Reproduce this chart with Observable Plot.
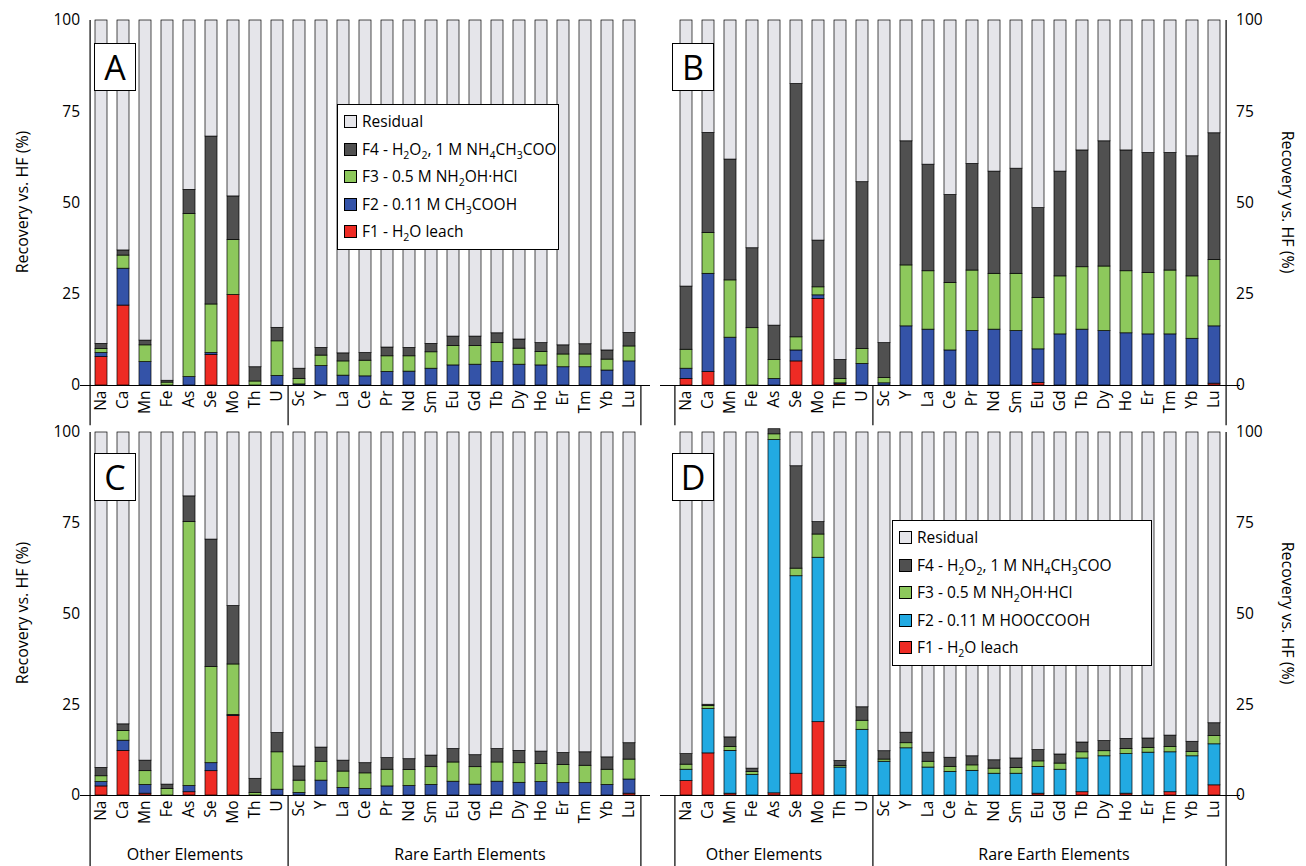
<!DOCTYPE html>
<html>
<head>
<meta charset="utf-8">
<script src="https://cdn.jsdelivr.net/npm/d3@7"></script>
<script src="https://cdn.jsdelivr.net/npm/@observablehq/plot@0.6"></script>
<style>
  body { margin: 0; background: #fff; font-family: "Open Sans", sans-serif; }
  #wrap { position: relative; width: 1306px; height: 866px; overflow: hidden; }
  .panel { position: absolute; }
  .letter { position: absolute; border: 1.5px solid #000; background: #fff; font-size: 34px; line-height: 46px; width: 40px; text-align: center; }
  .legend { position: absolute; border: 1.5px solid #000; background: #fff; font-size: 15.5px; padding: 3px 6px; }
  .legend div { height: 27.5px; line-height: 27.5px; white-space: nowrap; }
  .legend span.sw { display: inline-block; width: 11px; height: 11px; border: 1px solid #000; margin-right: 5px; vertical-align: -1px; }
  .legend sub { font-size: 10.5px; }
  .group { position: absolute; font-size: 16px; text-align: center; }
  .ylab { position: absolute; font-size: 16px; white-space: nowrap; transform-origin: center; }
</style>
</head>
<body>
<div id="wrap"></div>
<script>
const elements = ["Na","Ca","Mn","Fe","As","Se","Mo","Th","U","Sc","Y","La","Ce","Pr","Nd","Sm","Eu","Gd","Tb","Dy","Ho","Er","Tm","Yb","Lu"]

// Panel A
const aF1 = [7.8,21.9,0,0,0,8.4,24.8,0,0, 0,0,0,0,0,0,0,0,0,0,0,0,0,0,0,0]
const aF2 = [1.1,10.1,6.4,0,2.3,0.5,0,0,2.6, 0.3,5.3,2.7,2.5,3.7,3.8,4.6,5.5,5.7,6.4,5.7,5.5,5.0,5.0,4.1,6.6]
const aF3 = [1.1,3.6,4.6,0.8,44.7,13.3,15.1,1.1,9.5, 1.5,2.9,3.9,4.3,4.3,4.2,4.5,5.3,5.1,5.2,4.4,3.7,3.5,3.5,3.0,4.1]
const aF4 = [1.4,1.4,1.3,0.5,6.6,46.0,11.9,3.9,3.7, 2.8,2.1,2.2,2.1,2.4,2.3,2.3,2.6,2.6,2.7,2.5,2.4,2.5,2.8,2.5,3.7]
// Panel B
const bF1 = [1.8,3.7,0,0,0,6.6,23.7,0.3,0, 0,0,0,0,0,0,0,0.7,0,0,0,0,0,0,0,0.5]
const bF2 = [2.8,26.9,13.1,0,1.8,3.0,1.0,0.3,5.9, 0.6,16.2,15.3,9.6,14.9,15.3,14.9,9.2,14.0,15.3,14.9,14.3,14.0,14.0,12.8,15.7]
const bF3 = [5.2,11.2,15.7,15.7,5.2,3.6,2.2,1.2,4.1, 1.5,16.7,16.0,18.5,16.6,15.3,15.7,14.1,15.9,17.1,17.7,17.0,16.8,17.5,17.1,18.2]
const bF4 = [17.3,27.4,33.1,21.9,9.4,69.4,12.8,5.2,45.7, 9.5,34.0,29.2,24.1,29.2,28.0,28.8,24.6,28.7,32.0,34.3,33.1,32.9,32.2,32.9,34.7]
// Panel C
const cF1 = [2.5,12.3,0.5,0,0.9,6.7,21.9,0,0, 0,0,0,0,0,0,0,0,0,0,0,0,0,0,0,0.5]
const cF2 = [1.2,2.8,2.4,0,1.7,2.2,0.3,0,1.6, 0.7,4.1,2.1,1.8,2.5,2.6,2.9,3.8,3.0,3.8,3.5,3.7,3.4,3.4,2.9,3.9]
const cF3 = [1.6,2.7,3.8,1.8,72.7,26.5,13.9,0.7,10.3, 3.4,5.2,4.5,4.3,4.6,4.4,4.9,5.3,4.8,5.3,5.4,5.0,5.0,4.8,4.2,5.5]
const cF4 = [2.3,1.8,2.9,1.2,7.1,35.1,16.1,3.9,5.3, 3.9,3.9,3.0,2.8,3.2,3.0,3.2,3.7,3.3,3.7,3.4,3.4,3.3,3.7,3.4,4.5]
// Panel D
const dF1 = [4.0,11.6,0.5,0,0.6,6.0,20.2,0,0, 0,0,0,0,0,0,0,0.5,0,0.9,0,0.5,0,0.9,0,2.8]
const dF2 = [3.1,12.2,11.8,5.7,97.3,54.4,45.3,7.7,18.1, 9.3,13.0,7.7,6.5,6.8,6.0,6.0,7.4,7.1,9.3,10.8,10.9,11.8,11.0,10.8,11.3]
const dF3 = [1.4,0.9,1.1,0.8,1.6,2.1,6.4,0.4,2.5, 0.6,1.4,1.6,1.4,1.5,1.4,1.6,1.5,1.7,1.7,1.4,1.4,1.3,1.5,1.2,2.3]
const dF4 = [2.9,0.3,2.6,0.9,1.4,28.2,3.4,1.4,3.7, 2.3,2.9,2.5,2.5,2.5,2.3,2.6,3.1,2.5,2.7,2.8,2.8,2.6,3.1,2.8,3.5]

const fractions = ["F1","F2","F3","F4","Residual"]
const yTicks = [0,25,50,75,100]

function rows(f1, f2, f3, f4) {
  const out = []
  elements.forEach((el, i) => {
    const vals = [f1[i], f2[i], f3[i], f4[i]]
    const res = Math.max(0, 100 - d3.sum(vals))
    vals.concat([res]).forEach((v, k) => out.push({el, frac: fractions[k], v}))
  })
  return out
}

const wrap = document.getElementById("wrap")

function panel(opts) {
  const {data, blue, side, left, top, width, height, mTop, mBottom, mLeft, mRight, ext} = opts
  const step = (width - mLeft - mRight) / elements.length
  const colors = ["#ee2b24", blue, "#8dc85c", "#505050", "#e5e5ea"]
  const edge = side === "left" ? "Na" : "Lu"
  const edgeDx = side === "left" ? -step / 2 : step / 2
  const chart = Plot.plot({
    width, height,
    marginTop: mTop, marginBottom: mBottom, marginLeft: mLeft, marginRight: mRight,
    style: {fontFamily: "Open Sans", color: "#000", overflow: "visible"},
    x: {domain: elements, padding: 0.45, label: null, axis: null},
    y: {domain: [0, 100], label: null, axis: null},
    color: {domain: fractions, range: colors},
    marks: [
      Plot.barY(data, Plot.stackY({order: fractions}, {x: "el", y: "v", fill: "frac", stroke: "#000", strokeWidth: 0.7})),
      Plot.ruleY([0], {stroke: "#000", strokeWidth: 1.2}),
      Plot.ruleX([0], {x: () => "Sc", dx: -step / 2, y1: 0, y2: ext, stroke: "#000", strokeWidth: 1.2}),
      Plot.ruleX([0], {x: () => "Na", dx: -step / 2, y1: side === "left" ? 100 : 0, y2: ext, stroke: "#000", strokeWidth: 1.2}),
      Plot.ruleX([0], {x: () => "Lu", dx: step / 2, y1: side === "right" ? 100 : 0, y2: ext, stroke: "#000", strokeWidth: 1.2}),
      // category labels
      Plot.text(elements, {x: d => d, frameAnchor: "bottom", dy: 5, rotate: -90, textAnchor: "end", lineAnchor: "middle", fontSize: 15.5, fill: "#000"}),
      // value tick labels
      Plot.text(yTicks, {y: d => d, x: () => edge, dx: edgeDx + (side === "left" ? -10 : 10), textAnchor: side === "left" ? "end" : "start", fontSize: 15.5, fill: "#000"})
    ]
  })
  chart.classList.add("panel")
  chart.style.left = left + "px"
  chart.style.top = top + "px"
  wrap.appendChild(chart)
}

panel({data: rows(aF1, aF2, aF3, aF4), blue: "#3453a8", side: "left", left: 0, top: 0, width: 653, height: 430, mTop: 20, mBottom: 45, mLeft: 80, mRight: 3, ext: -11})
panel({data: rows(bF1, bF2, bF3, bF4), blue: "#3453a8", side: "right", left: 653, top: 0, width: 653, height: 430, mTop: 20, mBottom: 45, mLeft: 7, mRight: 66, ext: -11})
panel({data: rows(cF1, cF2, cF3, cF4), blue: "#3453a8", side: "left", left: 0, top: 430, width: 653, height: 436, mTop: 2, mBottom: 71, mLeft: 80, mRight: 3, ext: -20})
panel({data: rows(dF1, dF2, dF3, dF4), blue: "#22aae2", side: "right", left: 653, top: 430, width: 653, height: 436, mTop: 2, mBottom: 71, mLeft: 7, mRight: 66, ext: -20})

function addDiv(cls, html, css) {
  const d = document.createElement("div")
  d.className = cls
  d.innerHTML = html
  Object.assign(d.style, css)
  wrap.appendChild(d)
}
addDiv("letter", "A", {left: "94px", top: "43px"})
addDiv("letter", "B", {left: "672px", top: "43px"})
addDiv("letter", "C", {left: "94px", top: "453px"})
addDiv("letter", "D", {left: "672px", top: "453px"})

// axis titles, rotated
const yl = "Recovery vs. HF (%)"
addDiv("ylab", yl, {left: "-58px", top: "191px", width: "160px", textAlign: "center", transform: "rotate(-90deg)"})
addDiv("ylab", yl, {left: "-58px", top: "602px", width: "160px", textAlign: "center", transform: "rotate(-90deg)"})
addDiv("ylab", yl, {left: "1208px", top: "191px", width: "160px", textAlign: "center", transform: "rotate(90deg)"})
addDiv("ylab", yl, {left: "1208px", top: "602px", width: "160px", textAlign: "center", transform: "rotate(90deg)"})

function legendHtml(f2) {
  const sw = c => `<span class="sw" style="background:${c}"></span>`
  return `<div>${sw("#e5e5ea")}Residual</div>
  <div>${sw("#505050")}F4 - H<sub>2</sub>O<sub>2</sub>, 1 M NH<sub>4</sub>CH<sub>3</sub>COO</div>
  <div>${sw("#8dc85c")}F3 - 0.5 M NH<sub>2</sub>OH·HCl</div>
  <div>${f2}</div>
  <div>${sw("#ee2b24")}F1 - H<sub>2</sub>O leach</div>`
}
addDiv("legend", legendHtml(`<span class="sw" style="background:#3453a8"></span>F2 - 0.11 M CH<sub>3</sub>COOH`), {left: "337px", top: "104px", width: "208px"})
addDiv("legend", legendHtml(`<span class="sw" style="background:#22aae2"></span>F2 - 0.11 M HOOCCOOH`), {left: "892px", top: "520px", width: "246px"})

addDiv("group", "Other Elements", {left: "80px", width: "210px", top: "843px"})
addDiv("group", "Rare Earth Elements", {left: "290px", width: "360px", top: "843px"})
addDiv("group", "Other Elements", {left: "660px", width: "208px", top: "843px"})
addDiv("group", "Rare Earth Elements", {left: "868px", width: "372px", top: "843px"})
</script>
</body>
</html>
